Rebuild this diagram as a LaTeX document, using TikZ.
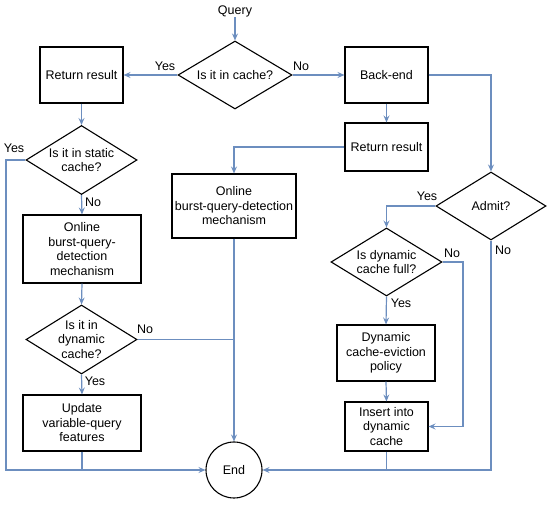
\documentclass[tikz,border=0pt]{standalone}
\usepackage{fontspec}
\setmainfont{Liberation Sans}
\usetikzlibrary{shapes.geometric,arrows.meta}
\definecolor{flow}{HTML}{6C8EBF}
\begin{document}
\begin{tikzpicture}[x=1pt,y=-1pt,
  every node/.style={font=\fontsize{12.5}{14.5}\selectfont, align=center},
  box/.style={draw=black, line width=1.1pt, rectangle, inner sep=0pt},
  dia/.style={draw=black, line width=1.1pt, diamond, inner sep=0pt},
  circ/.style={draw=black, line width=1.1pt, circle, inner sep=0pt, minimum size=56pt},
  lbl/.style={inner sep=0pt},
  conn/.style={draw=flow, line width=1.2pt},
  arr/.style={conn, -{Stealth[length=7pt,width=6pt,inset=2.5pt]}}
]
\useasboundingbox (0,0) rectangle (550,505);

\node[lbl] (q) at (235,11) {Query};
\node[dia, minimum width=114pt, minimum height=68pt, label={[align=center]center:Is it in cache?}] (c1) at (235,75) {};
\node[box, minimum width=83pt, minimum height=56pt] (rr1) at (81.5,75) {Return result};
\node[box, minimum width=83pt, minimum height=56pt] (be) at (386.5,75) {Back-end};
\node[box, minimum width=83pt, minimum height=48pt] (rr2) at (386.5,147) {Return result};
\node[box, minimum width=124pt, minimum height=64pt] (ob2) at (234,206) {Online\\burst-query-detection\\mechanism};
\node[circ] (end) at (234,470) {End};

\node[dia, minimum width=111pt, minimum height=69pt, label={[align=center]center:Is it in static\\cache?}] (sc) at (81.5,160) {};
\node[box, minimum width=118pt, minimum height=68pt] (ob1) at (82,249) {Online\\burst-query-\\detection\\mechanism};
\node[dia, minimum width=111pt, minimum height=69pt, label={[align=center]center:Is it in\\dynamic\\cache?}] (dc) at (81.5,339.5) {};
\node[box, minimum width=118pt, minimum height=56pt] (up) at (82,423) {Update\\variable-query\\features};

\node[dia, minimum width=110pt, minimum height=68pt, label={[align=center]center:Admit?}] (ad) at (491,206) {};
\node[dia, minimum width=111pt, minimum height=68pt, label={[align=center]center:Is dynamic\\cache full?}] (fu) at (386.5,262) {};
\node[box, minimum width=98pt, minimum height=56pt] (ev) at (386,353) {Dynamic\\cache-eviction\\policy};
\node[box, minimum width=83pt, minimum height=49pt] (ins) at (386.5,426.5) {Insert into\\dynamic\\cache};

\coordinate (yl) at (6,160);
\coordinate (fn) at (463,262);

% labels
\node[lbl] (lyes1) at (165,66) {Yes};
\node[lbl] (lno1) at (301,66) {No};
\node[lbl] (lyes2) at (14,148) {Yes};
\node[lbl] (lno2) at (93,202) {No};
\node[lbl] (lno3) at (145,329) {No};
\node[lbl] (lyes3) at (95,381) {Yes};
\node[lbl] (lyes4) at (427,196) {Yes};
\node[lbl] (lno4) at (503,250) {No};
\node[lbl] (lno5) at (452,253) {No};
\node[lbl] (lyes5) at (401,303) {Yes};

% connectors
\draw[arr] (q) -- (c1.north);
\draw[arr] (c1.west) -- (rr1.east);
\draw[arr] (c1.east) -- (be.west);
\draw[arr] (be.east) -| (ad.north);
\draw[arr] (be.south) -- (rr2.north);
\draw[arr] (rr2.west) -| (ob2.north);
\draw[arr] (ob2.south) -- (end.north);
\draw[arr] (rr1.south) -- (sc.north);
\draw[arr] (sc.west) -- (yl) |- (end.west);
\draw[arr] (sc.south) -- (ob1.north);
\draw[arr] (ob1.south) -- (dc.north);
\draw[conn] (dc.east) -- (dc.east -| ob2.south);
\draw[arr] (dc.south) -- (up.north);
\draw[conn] (up.south) -- (up.south |- end.west);
\draw[arr] (ad.west) -| (fu.north);
\draw[arr] (ad.south) |- (end.east);
\draw[arr] (fu.south) -- (ev.north);
\draw[arr] (ev.south) -- (ins.north);
\draw[arr] (fu.east) -- (fn) |- (ins.east);
\draw[conn] (ins.south) -- (ins.south |- end.east);
\end{tikzpicture}
\end{document}
